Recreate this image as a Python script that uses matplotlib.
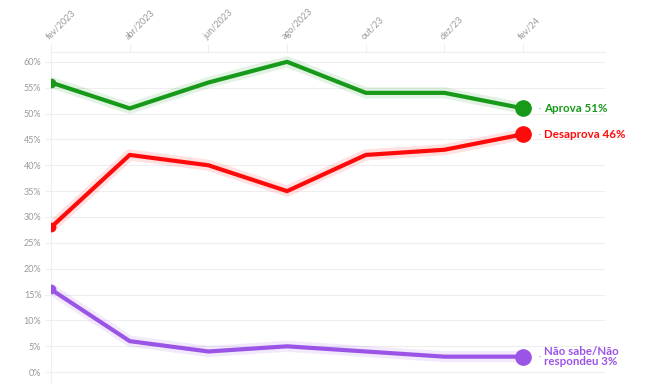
import matplotlib.pyplot as plt

# dados
meses = ['fev/2023', 'abr/2023', 'jun/2023', 'ago/2023', 'out/23', 'dez/23', 'fev/24']
aprova = [56, 51, 56, 60, 54, 54, 51]
desaprova = [28, 42, 40, 35, 42, 43, 46]
nao_sabe = [16, 6, 4, 5, 4, 3, 3]

series = [
    (aprova, '#17991a', 'Aprova 51%'),
    (desaprova, '#ff0a0a', 'Desaprova 46%'),
    (nao_sabe, '#9a55e6', 'Não sabe/Não\nrespondeu 3%'),
]

plt.rcParams['font.family'] = ['Lato', 'DejaVu Sans']

fig = plt.figure(figsize=(6.6, 3.9), dpi=100)
ax = fig.add_axes([51 / 660, 8 / 390, 554 / 660, 330 / 390])

x = list(range(len(meses)))
for vals, cor, rotulo in series:
    # halo claro por baixo da linha
    ax.plot(x, vals, color=cor, lw=8, alpha=0.12, solid_capstyle='round', zorder=2)
    ax.plot(x, vals, color=cor, lw=3, zorder=3)
    ax.plot(x[0], vals[0], 'o', color=cor, ms=6, zorder=4)
    ax.plot(x[-1], vals[-1], 'o', color=cor, ms=11, zorder=4)
    ax.annotate('-', (x[-1], vals[-1]), xytext=(10, 0), textcoords='offset points',
                color='#bbbbbb', fontsize=7, va='center')
    ax.annotate(rotulo, (x[-1], vals[-1]), xytext=(15, 0), textcoords='offset points',
                color=cor, fontsize=8.3, fontweight='bold', va='center', linespacing=0.95)

ax.set_xlim(0, 7.04)
ax.set_ylim(-1.9, 61.9)
ax.set_yticks(range(0, 61, 5))
ax.set_yticklabels([f'{v}%' for v in range(0, 61, 5)])
ax.set_xticks(x)
ax.set_xticklabels(meses, rotation=45, ha='left', rotation_mode='anchor')
ax.xaxis.tick_top()
ax.tick_params(axis='x', length=6, color='#eeeeee', labelsize=6.5, labelcolor='#999999', pad=2)
ax.tick_params(axis='y', length=4, color='#eeeeee', labelsize=6.5, labelcolor='#999999', pad=3)

ax.grid(axis='y', color='#eeeeee', lw=0.8)
for s in ['right', 'bottom']:
    ax.spines[s].set_visible(False)
ax.spines['top'].set_color('#eeeeee')
ax.spines['left'].set_color('#eeeeee')

plt.savefig('out.png', dpi=100)
